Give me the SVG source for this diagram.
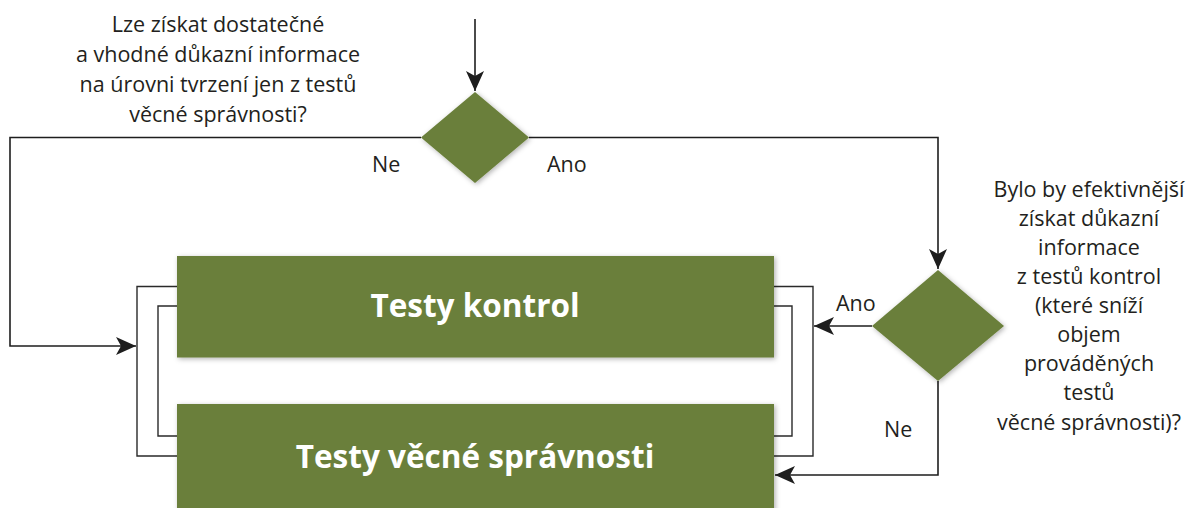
<svg xmlns="http://www.w3.org/2000/svg" width="1191" height="508" viewBox="0 0 1191 508">
<style>
.node{fill:#6a7f3a;filter:url(#sh)}
.conn{fill:none;stroke:#1e1e1e;stroke-width:1.6}
.br{fill:none;stroke:#2a2a2a;stroke-width:1.4}
.t{font-family:"Open Sans","Noto Sans","DejaVu Sans",sans-serif;font-size:21.5px;fill:#231f20;text-anchor:middle}
.lbl{font-family:"Open Sans","Noto Sans","DejaVu Sans",sans-serif;font-size:21.5px;fill:#231f20}
.bt{font-family:"Open Sans","Noto Sans","DejaVu Sans",sans-serif;font-size:31.5px;font-weight:bold;fill:#ffffff;text-anchor:middle}
</style>
<defs>
<filter id="sh" x="-10%" y="-10%" width="120%" height="130%">
<feDropShadow dx="1.5" dy="1.5" stdDeviation="2.5" flood-color="#000" flood-opacity="0.3"/>
</filter>
<marker id="ah" viewBox="0 0 20 18" refX="20" refY="9" markerWidth="20" markerHeight="18" markerUnits="userSpaceOnUse" orient="auto">
<path d="M0,0 L20,9 L0,18 L5,9 Z" fill="#1e1e1e"/>
</marker>
</defs>

<g id="connectors">
<path class="conn" d="M475,19 V91" marker-end="url(#ah)"/>
<path class="conn" d="M421,137.5 H10 V346 H136" marker-end="url(#ah)"/>
<path class="conn" d="M529,137.5 H938 V269" marker-end="url(#ah)"/>
<path class="conn" d="M872,326 H814" marker-end="url(#ah)"/>
<path class="conn" d="M938,381 V475 H775" marker-end="url(#ah)"/>
<path class="br" d="M177,286.5 H137 V456 H177"/>
<path class="br" d="M177,306 H158 V436 H177"/>
<path class="br" d="M774,286.5 H813 V456 H774"/>
<path class="br" d="M774,306 H792 V436 H774"/>
</g>

<g id="q1">
<polygon class="node" points="475,92 529,137.5 475,183 421,137.5"/>
<text class="t" x="218" y="32">Lze získat dostatečné</text>
<text class="t" x="218" y="62">a vhodné důkazní informace</text>
<text class="t" x="218" y="92">na úrovni tvrzení jen z testů</text>
<text class="t" x="218" y="122">věcné správnosti?</text>
</g>

<g id="q2">
<polygon class="node" points="938,270 1004,326 938,381 872,326"/>
<text class="t" x="1089" y="197">Bylo by efektivnější</text>
<text class="t" x="1089" y="226">získat důkazní</text>
<text class="t" x="1089" y="255">informace</text>
<text class="t" x="1089" y="284">z testů kontrol</text>
<text class="t" x="1089" y="313">(které sníží</text>
<text class="t" x="1089" y="342">objem</text>
<text class="t" x="1089" y="371">prováděných</text>
<text class="t" x="1089" y="400">testů</text>
<text class="t" x="1089" y="430">věcné správnosti)?</text>
</g>

<g id="box1">
<rect class="node" x="177" y="256" width="597" height="101.5"/>
<text class="bt" x="475" y="317">Testy kontrol</text>
</g>

<g id="box2">
<rect class="node" x="177" y="404" width="597" height="110"/>
<text class="bt" x="475" y="468">Testy věcné správnosti</text>
</g>

<g id="labels">
<text class="lbl" x="372" y="172">Ne</text>
<text class="lbl" x="547" y="172">Ano</text>
<text class="lbl" x="836" y="311">Ano</text>
<text class="lbl" x="884" y="437">Ne</text>
</g>
</svg>
